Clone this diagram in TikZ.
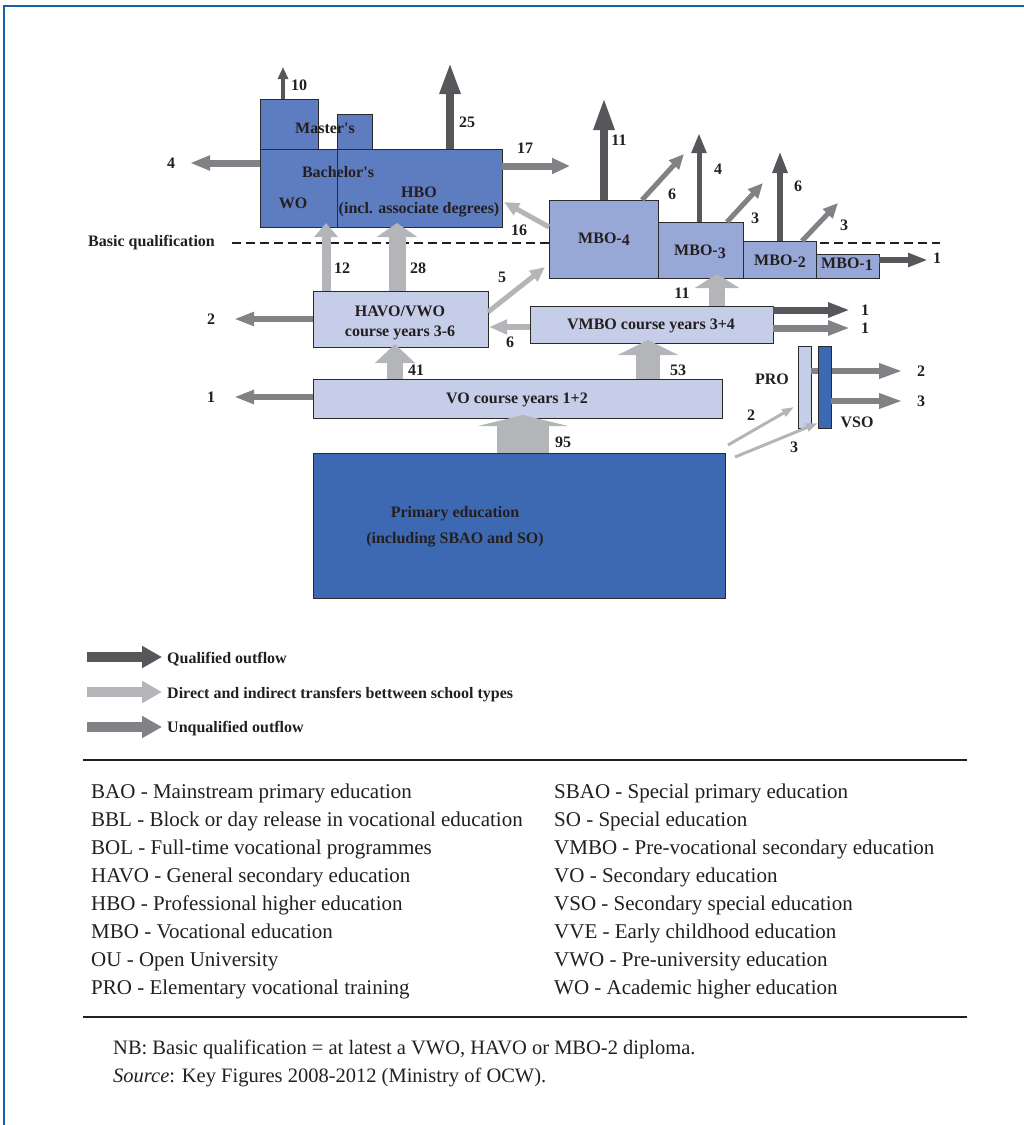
\documentclass[tikz,border=0pt]{standalone}
\usepackage{fontspec}
\setmainfont{Liberation Serif}
\usetikzlibrary{arrows.meta,calc}
\definecolor{framec}{HTML}{1B5EA8}
\definecolor{hboc}{HTML}{5E7CC0}
\definecolor{mboc}{HTML}{97A7D6}
\definecolor{lightc}{HTML}{C6CDE8}
\definecolor{darkc}{HTML}{3C69B2}
\definecolor{qualc}{HTML}{55575A}
\definecolor{transc}{HTML}{B3B5B8}
\definecolor{unqc}{HTML}{808285}
\definecolor{txtc}{HTML}{231F20}
\definecolor{bordc}{HTML}{2A2A2A}
\newcommand\mkbox[6]{\node[box, fill=#6, minimum width={#4-#2}, minimum height={#5-#3}] (#1) at (#2,#3) {};}
\newcommand\sbx[1]{\raisebox{-0.35ex}{#1}}
\begin{document}
\begin{tikzpicture}[x=1pt,y=-1pt,
  box/.style={draw=bordc, line width=1pt, inner sep=0pt, outer sep=0pt, anchor=north west},
  lab/.style={text=txtc, font=\fontsize{16}{19}\selectfont\bfseries, inner sep=0pt},
  leg/.style={text=txtc, font=\fontsize{21}{25}\selectfont, inner sep=0pt, anchor=base west},
  note/.style={text=txtc, font=\fontsize{20.5}{24}\selectfont, inner sep=0pt, anchor=base west},
  ba/.style n args={3}{line width=#1, -{Triangle[width=#2,length=#3]}},
  rulec/.style={draw=txtc, line width=2pt}]
\useasboundingbox (0,0) rectangle (1024,1125);
% frame
\draw[framec, line width=2.5pt] (4,1125) -- (4,6) -- (1024,6);

% dashed basic qualification line
\coordinate (dqa) at (232,243);
\coordinate (dqb) at (940,243);
\draw[txtc, line width=2.5pt, dash pattern=on 9pt off 5pt] (dqa) -- (dqb);
\node[lab, anchor=west] (bq) at (88,243) {Basic qualification};

% boxes
\mkbox{wom}{260}{99}{318}{149}{hboc}
\mkbox{hbom}{337}{114}{372}{149}{hboc}
\mkbox{wob}{260}{149}{337}{227}{hboc}
\mkbox{hbo}{337}{149}{502}{227}{hboc}
\mkbox{mbo4}{549}{200}{658}{278}{mboc}
\mkbox{mbo3}{658}{222}{743}{278}{mboc}
\mkbox{mbo2}{743}{241}{816}{278}{mboc}
\mkbox{mbo1}{816}{254}{879}{278}{mboc}
\mkbox{havo}{313}{291}{488}{347}{lightc}
\mkbox{vmbo}{530}{306}{773}{343}{lightc}
\mkbox{vo}{313}{379}{722}{418}{lightc}
\mkbox{prim}{313}{453}{725}{598}{darkc}
\mkbox{pro}{798}{346}{811}{428}{lightc}

% flows: top
\coordinate (t10) at (283,67);
\draw[qualc, ba={4pt}{10pt}{12pt}] (wom.north -| t10) -- (t10);
\coordinate (t25) at (450,62);
\draw[qualc, ba={8pt}{19pt}{32pt}] (hbo.north -| t25) -- (t25);
\coordinate (t4) at (190,163);
\draw[unqc, ba={7pt}{14pt}{20pt}] (wob.west |- t4) -- (t4);
\coordinate (t17) at (570,166);
\draw[unqc, ba={7pt}{15pt}{18pt}] (hbo.east |- t17) -- (t17);
\coordinate (t16) at (504,202);
\draw[transc, ba={5pt}{13pt}{15pt}] ($(mbo4.north west)+(0,27)$) -- (t16);

% MBO outflows
\coordinate (t11a) at (604,97);
\draw[qualc, ba={8pt}{19pt}{33pt}] (mbo4.north -| t11a) -- (t11a);
\coordinate (t6a) at (684,154);
\draw[unqc, ba={5pt}{13pt}{15pt}] ($(mbo4.north east)+(-16,0)$) -- (t6a);
\coordinate (t4b) at (699,133);
\draw[qualc, ba={5pt}{14pt}{20pt}] (mbo3.north -| t4b) -- (t4b);
\coordinate (t3a) at (763,183);
\draw[unqc, ba={5pt}{13pt}{15pt}] ($(mbo3.north west)+(69,0)$) -- (t3a);
\coordinate (t6b) at (780,151);
\draw[qualc, ba={6pt}{14pt}{22pt}] (mbo2.north -| t6b) -- (t6b);
\coordinate (t3b) at (838,203);
\draw[unqc, ba={5pt}{13pt}{15pt}] ($(mbo2.north west)+(59,0)$) -- (t3b);
\coordinate (t1a) at (928,260);
\draw[qualc, ba={6pt}{13pt}{20pt}] (mbo1.east |- t1a) -- (t1a);

% transfers HAVO
\coordinate (t12) at (326,223);
\draw[transc, ba={9pt}{23pt}{14pt}] (havo.north -| t12) -- (t12);
\coordinate (t28) at (397,223);
\draw[transc, ba={17pt}{40pt}{14pt}] (havo.north -| t28) -- (t28);
\coordinate (t5) at (545,267);
\draw[transc, ba={5pt}{13pt}{15pt}] ($(havo.north east)+(0,21)$) -- (t5);
\coordinate (t2a) at (234,319);
\draw[unqc, ba={6pt}{13pt}{20pt}] (havo.west |- t2a) -- (t2a);
\coordinate (t6c) at (489,327);
\draw[transc, ba={6pt}{14pt}{18pt}] (vmbo.west |- t6c) -- (t6c);

% VO / VMBO
\coordinate (t41) at (395,344);
\draw[transc, ba={16pt}{39pt}{19pt}] (vo.north -| t41) -- (t41);
\coordinate (t53) at (648,340);
\draw[transc, ba={24pt}{60pt}{15pt}] (vo.north -| t53) -- (t53);
\coordinate (t11b) at (717,274);
\draw[transc, ba={16pt}{44pt}{14pt}] (vmbo.north -| t11b) -- (t11b);
\coordinate (t1b) at (850,310);
\draw[qualc, ba={7pt}{14pt}{22pt}] (vmbo.east |- t1b) -- (t1b);
\coordinate (t1c) at (850,328);
\draw[unqc, ba={7pt}{14pt}{22pt}] (vmbo.east |- t1c) -- (t1c);
\coordinate (t1d) at (234,397);
\draw[unqc, ba={6pt}{13pt}{20pt}] (vo.west |- t1d) -- (t1d);
\coordinate (t95) at (523,415);
\draw[transc, ba={52pt}{90pt}{11pt}] (prim.north -| t95) -- (t95);

% PRO / VSO
\coordinate (t2b) at (903,371);
\draw[unqc, ba={6pt}{14pt}{24pt}] (pro.east |- t2b) -- (t2b);
\mkbox{vso}{818}{346}{831}{428}{darkc}
\coordinate (t3c) at (903,401);
\draw[unqc, ba={6pt}{14pt}{24pt}] (vso.east |- t3c) -- (t3c);
\coordinate (t2c) at (794,407);
\draw[transc, ba={3pt}{8pt}{12pt}] ($(prim.north east)+(3,-8)$) -- (t2c);
\coordinate (t3d) at (818,423);
\draw[transc, ba={3pt}{8pt}{12pt}] ($(prim.north east)+(10,4)$) -- (t3d);

% box texts
\node[lab] (lmas) at (325,128) {Master\textquotesingle s};
\node[lab] (lbach) at (338,172) {Bachelor\textquotesingle s};
\node[lab] (lwo) at (293,203) {WO};
\node[lab] (lhbo) at (419,192) {HBO};
\node[lab] (lhbo2) at (419,210) {(incl. associate degrees)};
\node[lab] (lm4) at (604,239) {MBO-\sbx{4}};
\node[lab] (lm3) at (700,252) {MBO-\sbx{3}};
\node[lab] (lm2) at (780,261) {MBO-\sbx{2}};
\node[lab] (lm1) at (847,264) {MBO-\sbx{1}};
\node[lab] (lhavo) at (400,311) {HAVO/VWO};
\node[lab] (lhavo2) at (400,333) {course years 3-6};
\node[lab] (lvmbo) at (651,326) {VMBO course years 3+4};
\node[lab] (lvo) at (517,400) {VO course years 1+2};
\node[lab] (lprim) at (455,514) {Primary education};
\node[lab] (lprim2) at (455,540) {(including SBAO and SO)};
\node[lab] (lpro) at (772,379) {PRO};
\node[lab] (lvso) at (857,422) {VSO};

% numbers
\node[lab] (n10) at (299,85) {10};
\node[lab] (n25) at (467,122) {25};
\node[lab] (n4) at (171,163) {4};
\node[lab] (n17) at (525,148) {17};
\node[lab] (n16) at (519,230) {16};
\node[lab] (n11a) at (619,140) {11};
\node[lab] (n6a) at (672,194) {6};
\node[lab] (n4b) at (718,169) {4};
\node[lab] (n3a) at (755,218) {3};
\node[lab] (n6b) at (798,186) {6};
\node[lab] (n3b) at (844,225) {3};
\node[lab] (n1a) at (937,258) {1};
\node[lab] (n12) at (342,268) {12};
\node[lab] (n28) at (418,268) {28};
\node[lab] (n5) at (502,277) {5};
\node[lab] (n11b) at (682,293) {11};
\node[lab] (n2a) at (211,319) {2};
\node[lab] (n6c) at (510,342) {6};
\node[lab] (n1b) at (865,310) {1};
\node[lab] (n1c) at (865,328) {1};
\node[lab] (n41) at (416,370) {41};
\node[lab] (n53) at (678,370) {53};
\node[lab] (n1d) at (211,397) {1};
\node[lab] (n2b) at (921,371) {2};
\node[lab] (n3c) at (921,401) {3};
\node[lab] (n2c) at (751,415) {2};
\node[lab] (n3d) at (794,447) {3};
\node[lab] (n95) at (563,442) {95};

% legend arrows
\coordinate (la1) at (87,657); \coordinate (lb1) at (162,657);
\coordinate (la2) at (87,692); \coordinate (lb2) at (162,692);
\coordinate (la3) at (87,727); \coordinate (lb3) at (162,727);
\draw[qualc, ba={10pt}{21pt}{20pt}] (la1) -- (lb1);
\draw[transc, ba={10pt}{21pt}{20pt}] (la2) -- (lb2);
\draw[unqc, ba={10pt}{21pt}{20pt}] (la3) -- (lb3);
\node[lab, anchor=base west] (lg1) at (167,663) {Qualified outflow};
\node[lab, anchor=base west] (lg2) at (167,698) {Direct and indirect transfers bettween school types};
\node[lab, anchor=base west] (lg3) at (167,732) {Unqualified outflow};

% rules
\coordinate (ra1) at (83,760); \coordinate (rb1) at (967,760);
\coordinate (ra2) at (83,1017); \coordinate (rb2) at (967,1017);
\draw[rulec] (ra1) -- (rb1);
\draw[rulec] (ra2) -- (rb2);

% abbreviations
\node[leg] (a1) at (91,798) {BAO - Mainstream primary education};
\node[leg] (a2) at (91,826) {BBL - Block or day release in vocational education};
\node[leg] (a3) at (91,854) {BOL - Full-time vocational programmes};
\node[leg] (a4) at (91,882) {HAVO - General secondary education};
\node[leg] (a5) at (91,910) {HBO - Professional higher education};
\node[leg] (a6) at (91,938) {MBO - Vocational education};
\node[leg] (a7) at (91,966) {OU - Open University};
\node[leg] (a8) at (91,994) {PRO - Elementary vocational training};
\node[leg] (b1) at (554,798) {SBAO - Special primary education};
\node[leg] (b2) at (554,826) {SO - Special education};
\node[leg] (b3) at (554,854) {VMBO - Pre-vocational secondary education};
\node[leg] (b4) at (554,882) {VO - Secondary education};
\node[leg] (b5) at (554,910) {VSO - Secondary special education};
\node[leg] (b6) at (554,938) {VVE - Early childhood education};
\node[leg] (b7) at (554,966) {VWO - Pre-university education};
\node[leg] (b8) at (554,994) {WO - Academic higher education};

% notes
\node[note] (nb) at (113,1054) {NB: Basic qualification = at latest a VWO, HAVO or MBO-2 diploma.};
\node[note] (src) at (113,1082) {\textit{Source}: Key Figures 2008-2012 (Ministry of OCW).};
\end{tikzpicture}
\end{document}
